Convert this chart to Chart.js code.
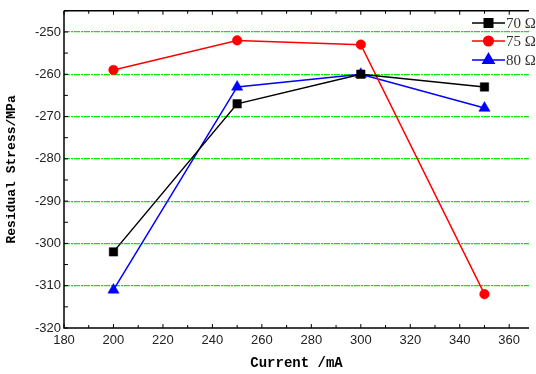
<!DOCTYPE html>
<html lang="en">
<head>
    <meta charset="UTF-8">
    <title>Residual Stress vs Current</title>
    <script src="https://cdn.jsdelivr.net/npm/chart.js"></script>
    <style>
        body { margin: 0; background: #fff; }
        #wrap { width: 536px; height: 374px; }
    </style>
</head>
<body>
    <div id="wrap"><canvas id="myChart" width="536" height="374"></canvas></div>

    <script>
        // data
        const currents = [200, 250, 300, 350];
        const stress70 = [-302, -267, -260, -263];
        const stress75 = [-259, -252, -253, -312];
        const stress80 = [-311, -263, -260, -268];
        const seriesNames = ['70 \u03A9', '75 \u03A9', '80 \u03A9'];
        const xTicks = [180, 190, 200, 210, 220, 230, 240, 250, 260, 270, 280, 290, 300, 310, 320, 330, 340, 350, 360];

        const toPoints = vals => currents.map((c, i) => ({ x: c, y: vals[i] }));

        // ticks pointing inward, top border, line+marker legend
        const frame = {
            id: 'frame',
            afterDraw(chart) {
                const ctx = chart.ctx;
                const a = chart.chartArea;
                const xs = chart.scales.x, ys = chart.scales.y;
                ctx.save();
                ctx.strokeStyle = '#000';
                ctx.lineWidth = 1.5;
                ctx.beginPath();
                ctx.moveTo(a.left, a.top); ctx.lineTo(a.right, a.top);
                ctx.moveTo(a.left, a.top); ctx.lineTo(a.left, a.bottom);
                ctx.lineTo(a.right, a.bottom);
                ctx.stroke();
                ctx.lineWidth = 1;
                xs.ticks.forEach(t => {
                    const px = xs.getPixelForValue(t.value);
                    const len = t.value % 20 === 0 ? 4 : 3;
                    ctx.beginPath();
                    ctx.moveTo(px, a.bottom); ctx.lineTo(px, a.bottom - len);
                    ctx.moveTo(px, a.top); ctx.lineTo(px, a.top + len);
                    ctx.stroke();
                });
                ys.ticks.forEach(t => {
                    const py = ys.getPixelForValue(t.value);
                    ctx.beginPath();
                    ctx.moveTo(a.left, py); ctx.lineTo(a.left + 4, py);
                    ctx.stroke();
                });

                // legend
                const x0 = 472, x1 = 505;
                const rows = [23, 41, 60];
                chart.data.datasets.forEach((ds, i) => {
                    const y = rows[i];
                    ctx.strokeStyle = ds.borderColor;
                    ctx.fillStyle = ds.pointBackgroundColor;
                    ctx.lineWidth = 1.5;
                    ctx.beginPath();
                    ctx.moveTo(x0, y); ctx.lineTo(x1, y);
                    ctx.stroke();
                    Chart.helpers.drawPoint(ctx, {
                        pointStyle: ds.pointStyle,
                        radius: ds.pointRadius,
                        rotation: 0,
                        borderWidth: ds.pointBorderWidth
                    }, (x0 + x1) / 2, y);
                    ctx.fillStyle = '#333';
                    ctx.font = '15px "Liberation Serif"';
                    ctx.textBaseline = 'middle';
                    ctx.textAlign = 'left';
                    ctx.fillText(ds.label, x1 + 1, y + 1);
                });
                ctx.restore();
            }
        };

        function line(label, vals, color, style, r) {
            return {
                label: label,
                data: toPoints(vals),
                borderColor: color,
                backgroundColor: color,
                pointBackgroundColor: color,
                pointBorderColor: color,
                pointBorderWidth: 0.5,
                pointStyle: style,
                pointRadius: r,
                pointHoverRadius: r,
                borderWidth: 1.5,
                tension: 0
            };
        }

        const ctx = document.getElementById('myChart').getContext('2d');
        new Chart(ctx, {
            type: 'line',
            data: {
                datasets: [
                    line(seriesNames[0], stress70, '#000000', 'rect', 6),
                    line(seriesNames[1], stress75, '#ff0000', 'circle', 4.8),
                    line(seriesNames[2], stress80, '#0000ff', 'triangle', 6.5)
                ]
            },
            options: {
                responsive: false,
                animation: false,
                layout: { padding: { top: 9, right: 0, left: 0, bottom: 0 } },
                plugins: { legend: { display: false }, tooltip: { enabled: false } },
                scales: {
                    x: {
                        type: 'linear',
                        min: 180,
                        max: 368,
                        afterBuildTicks: s => { s.ticks = xTicks.map(v => ({ value: v })); },
                        afterFit: s => { s.height = 46; },
                        border: { display: false },
                        grid: { display: false, drawTicks: false },
                        ticks: {
                            autoSkip: false,
                            maxRotation: 0,
                            padding: 5,
                            color: '#222',
                            font: { family: '"Liberation Sans"', size: 13 },
                            callback: v => (v % 20 === 0 ? v : '')
                        },
                        title: {
                            display: true,
                            text: 'Current /mA',
                            color: '#000',
                            padding: { top: 4, bottom: 2 },
                            font: { family: '"Liberation Mono"', size: 14, weight: 'bold' }
                        }
                    },
                    y: {
                        min: -320,
                        max: -245,
                        afterFit: s => { s.width = 64; },
                        border: { display: false, dash: [6, 1, 2, 1] },
                        grid: {
                            drawTicks: false,
                            color: c => (c.tick && c.tick.value % 10 === 0 && c.tick.value > -320) ? '#00ee00' : 'rgba(0,0,0,0)',
                            lineWidth: 1.2
                        },
                        ticks: {
                            stepSize: 5,
                            padding: 3,
                            color: '#222',
                            font: { family: '"Liberation Sans"', size: 13 },
                            callback: v => (v % 10 === 0 ? v : '')
                        },
                        title: {
                            display: true,
                            text: 'Residual Stress/MPa',
                            color: '#000',
                            padding: { bottom: 4 },
                            font: { family: '"Liberation Mono"', size: 13, weight: 'bold' }
                        }
                    }
                }
            },
            plugins: [frame]
        });
    </script>
</body>
</html>
